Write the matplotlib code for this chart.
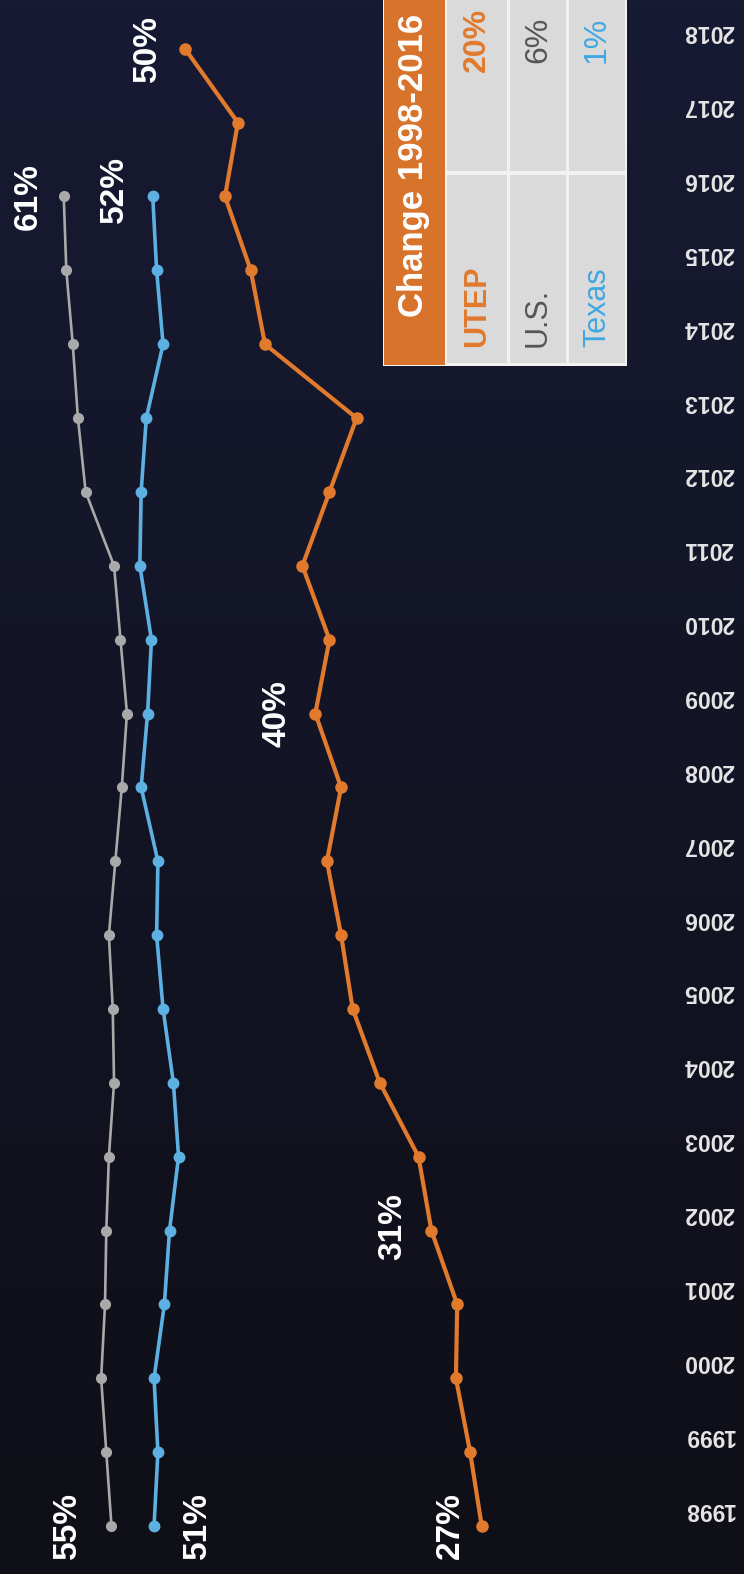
import numpy as np
import matplotlib.pyplot as plt
from matplotlib.patches import Rectangle

years = list(range(1998, 2019))
utep = [27.0, 27.9, 29.0, 28.9, 30.9, 31.9, 34.9, 37.0, 37.9, 39.0, 37.9,
        39.9, 38.8, 40.9, 38.8, 36.7, 43.8, 44.9, 46.9, 45.9, 50.0]
years_us = list(range(1998, 2017))
us = [55.7, 56.1, 56.5, 56.2, 56.1, 55.9, 55.5, 55.6, 55.9, 55.4, 54.9,
      54.5, 55.0, 55.5, 57.7, 58.3, 58.7, 59.2, 59.4]
texas = [52.4, 52.1, 52.4, 51.6, 51.2, 50.5, 50.9, 51.7, 52.2, 52.1, 53.4,
         52.9, 52.6, 53.5, 53.4, 53.0, 51.7, 52.2, 52.5]

# end / callout labels: (text, value position, year)
labels = [("55%", 59.15, 1998.0), ("51%", 49.0, 1998.0), ("27%", 29.45, 1998.0),
          ("61%", 62.15, 2016.0), ("52%", 55.5, 2016.1), ("50%", 52.95, 2018.0),
          ("40%", 42.85, 2009.0), ("31%", 33.9, 2002.05)]

table_names = ["UTEP", "U.S.", "Texas"]
table_changes = ["20%", "6%", "1%"]
table_title = "Change 1998-2016"

ORANGE = "#e27a2e"
GRAY = "#a9a9a9"
BLUE = "#5db0e2"

W, H = 744, 1574
fig = plt.figure(figsize=(W / 100, H / 100), dpi=100)

# background
bg = fig.add_axes([0, 0, 1, 1], zorder=0)
top = np.array([0x17, 0x1a, 0x33]) / 255
bot = np.array([0x0f, 0x0f, 0x17]) / 255
t = np.linspace(0, 1, 256)[:, None, None]
grad = top * (1 - t) + bot * t
grad = np.repeat(grad, 2, axis=1)
bg.imshow(grad, aspect="auto", extent=[0, 1, 0, 1])
bg.axis("off")

ax = fig.add_axes([0, 0, 1, 1], zorder=1)
ax.set_facecolor("none")
ax.set_xlim(64.34, 6.67)
ax.set_ylim(1997.35, 2018.66)
ax.axis("off")

ax.plot(us, years_us, color=GRAY, lw=1.9, marker="o", ms=7, zorder=3)
ax.plot(texas, years_us, color=BLUE, lw=2.6, marker="o", ms=7.5, zorder=3)
ax.plot(utep, years, color=ORANGE, lw=3.0, marker="o", ms=8, zorder=3)

for txt, v, yr in labels:
    ax.text(v, yr, txt, rotation=90, ha="center", va="center", color="white",
            fontsize=24, fontweight="bold", family="Liberation Sans")

# year labels (upside down, like the rotated original)
for yr in years:
    ax.text(9.4, yr + 0.23, str(yr), rotation=180, ha="center", va="center",
            color="#e6e6e6", fontsize=16.5, fontweight="bold", family="Liberation Sans")

# small table in the upper right
def fx(px):
    return px / W

def fy(py):
    return 1 - py / H

tr = ax.transAxes
ax.add_patch(Rectangle((fx(383), fy(366)), fx(627) - fx(383), fy(-5) - fy(366),
                       transform=tr, facecolor="#f2f2f2", edgecolor="none", zorder=4))
ax.add_patch(Rectangle((fx(384), fy(365)), fx(445) - fx(384), fy(-5) - fy(365),
                       transform=tr, facecolor="#d8732c", edgecolor="none", zorder=5))
ax.text(fx(414), fy(165), table_title, transform=tr, rotation=90, ha="center",
        va="center", color="white", fontsize=25, fontweight="bold",
        family="Liberation Sans", zorder=6)

row_x = [(447, 507), (510, 566), (569, 625)]
row_colors = [ORANGE, "#555555", "#3fa7e3"]
for (x0, x1), name, chg, col in zip(row_x, table_names, table_changes, row_colors):
    ax.add_patch(Rectangle((fx(x0), fy(363)), fx(x1) - fx(x0), fy(175) - fy(363),
                           transform=tr, facecolor="#dadada", edgecolor="none", zorder=5))
    ax.add_patch(Rectangle((fx(x0), fy(171)), fx(x1) - fx(x0), fy(-5) - fy(171),
                           transform=tr, facecolor="#dadada", edgecolor="none", zorder=5))
    xc = (x0 + x1) / 2
    ax.text(fx(xc), fy(347), name, transform=tr, rotation=90, ha="center",
            va="bottom", color=col, fontsize=22,
            fontweight="bold" if name == "UTEP" else "normal",
            family="Liberation Sans", zorder=6)
    ax.text(fx(xc), fy(40), chg, transform=tr, rotation=90, ha="center",
            va="center", color=col, fontsize=23,
            fontweight="bold" if name == "UTEP" else "normal",
            family="Liberation Sans", zorder=6)

fig.savefig("out.png", dpi=100)
